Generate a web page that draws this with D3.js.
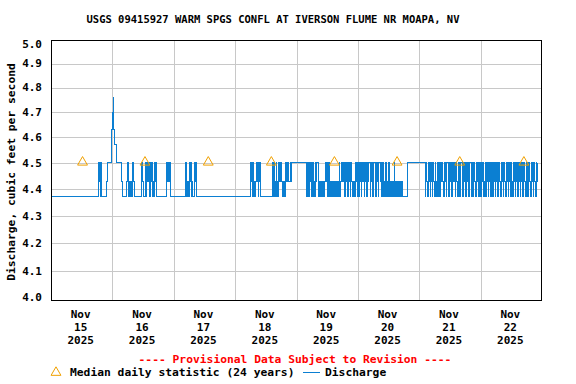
<!DOCTYPE html>
<html>
<head>
<meta charset="utf-8">
<script src="https://cdn.jsdelivr.net/npm/d3@7"></script>
<style>
    body { margin: 0; background: #fff; }
    svg { display: block; }
    text { font-family: "DejaVu Sans Mono", monospace; font-weight: bold; fill: #000; }
</style>
</head>
<body>
<svg id="chart" width="576" height="384"></svg>
<script>
// ========== Data ==========

const title = "USGS 09415927 WARM SPGS CONFL AT IVERSON FLUME NR MOAPA, NV";
const yLabel = "Discharge, cubic feet per second";
const yTicks = [4.0, 4.1, 4.2, 4.3, 4.4, 4.5, 4.6, 4.7, 4.8, 4.9, 5.0];
const dayLabels = ["15", "16", "17", "18", "19", "20", "21", "22"];

// discharge levels seen on the chart (cfs)
const levels = [4.37, 4.43, 4.50, 4.57, 4.63, 4.70, 4.76];

// 15-minute readings, one digit per reading (index into levels), one string per 6 hours
const nov15 = ["000000000000000000000000", "000000000000000000000000", "000000000000000000000000", "000210200000000122222244"];
const nov16 = ["564333222222222100000012", "201001012100000000000021", "000020121202120010212000", "000000000000021121200000"];
const nov17 = ["000000000000000000020110", "121201000212000000000000", "000000000000000000000000", "000000000000000000000000"];
const nov18 = ["000000000000000000000000", "212021101212012200000000", "000000000002021021102121", "210101021212112122222222"];
const nov19 = ["222222222222222202202212", "021010212210101010101221", "202101010101010101020122", "122022120212021010102120"];
const nov20 = ["202120221202120212202120", "122102120221201201021010", "210101010201010101010100", "000002222222222222222222"];
const nov21 = ["222222222022102120120121", "021022012012210212022102", "212022120221022012210221", "202120122021022102120120"];
const nov22 = ["201220120212012202102210", "212022102120221021201220", "210221021202210212022102", "120221021202210212"];

// median daily statistic (24 years)
const medianTimes = ["2025-11-15 12:20", "2025-11-16 12:45", "2025-11-17 13:30", "2025-11-18 14:10",
                     "2025-11-19 14:50", "2025-11-20 15:20", "2025-11-21 15:50", "2025-11-22 16:55"];
const medianValues = [4.5, 4.5, 4.5, 4.5, 4.5, 4.5, 4.5, 4.5];

// ========== Setup ==========

const svg = d3.select("#chart");
const margin = { left: 51, right: 542, top: 40, bottom: 300 };
const lineColor = "#0b7fd2";
const triColor = "#f0a000";

const start = new Date(2025, 10, 15, 0, 0);
const end = new Date(2025, 10, 23, 0, 0);

const x = d3.scaleTime().domain([start, end]).range([margin.left, margin.right]);
const y = d3.scaleLog().domain([4, 5]).range([margin.bottom, margin.top]);

const days = [nov15, nov16, nov17, nov18, nov19, nov20, nov21, nov22];
const readings = [];
days.forEach((blocks, d) => {
    blocks.forEach((s, b) => {
        s.split("").forEach((c, i) => {
            const minutes = ((d * 96) + (b * 24) + i) * 15;
            readings.push({ t: new Date(start.getTime() + minutes * 60000), v: levels[+c] });
        });
    });
});

const parseTime = d3.timeParse("%Y-%m-%d %H:%M");
const medians = medianTimes.map((t, i) => ({ t: parseTime(t), v: medianValues[i] }));

// ========== Grid ==========

const midnights = d3.timeDay.range(d3.timeDay.offset(start, 1), end);

svg.append("g")
    .selectAll("line")
    .data(yTicks.slice(1, -1))
    .join("line")
    .attr("x1", margin.left).attr("x2", margin.right)
    .attr("y1", d => Math.round(y(d)) + 0.5)
    .attr("y2", d => Math.round(y(d)) + 0.5)
    .attr("stroke", "#c8c8c8")
    .attr("shape-rendering", "crispEdges");

svg.append("g")
    .selectAll("line")
    .data(midnights)
    .join("line")
    .attr("x1", d => Math.round(x(d)) + 0.5)
    .attr("x2", d => Math.round(x(d)) + 0.5)
    .attr("y1", margin.top).attr("y2", margin.bottom)
    .attr("stroke", "#c8c8c8")
    .attr("shape-rendering", "crispEdges");

// ========== Discharge ==========

const line = d3.line()
    .x(d => x(d.t))
    .y(d => y(d.v))
    .curve(d3.curveStepAfter);

svg.append("path")
    .datum(readings)
    .attr("fill", "none")
    .attr("stroke", lineColor)
    .attr("stroke-width", 1)
    .attr("shape-rendering", "crispEdges")
    .attr("d", line);

// ========== Medians ==========

const tri = d3.symbol(d3.symbolTriangle, 42);

svg.append("g")
    .selectAll("path")
    .data(medians)
    .join("path")
    .attr("d", tri)
    .attr("transform", d => `translate(${x(d.t)},${y(d.v) - 0.5})`)
    .attr("fill", "none")
    .attr("stroke", triColor)
    .attr("stroke-width", 1);

// ========== Frame and axes ==========

svg.append("rect")
    .attr("x", margin.left + 0.5).attr("y", margin.top + 0.5)
    .attr("width", margin.right - margin.left - 1).attr("height", margin.bottom - margin.top)
    .attr("fill", "none")
    .attr("stroke", "#000")
    .attr("shape-rendering", "crispEdges");

svg.append("g")
    .selectAll("text")
    .data(yTicks)
    .join("text")
    .attr("x", 42)
    .attr("y", d => y(d) + (d === 5.0 ? 4 : d === 4.0 ? -3 : 0))
    .attr("dy", "0.35em")
    .attr("text-anchor", "end")
    .style("font-size", "11px")
    .text(d => d.toFixed(1));

const xLabels = svg.append("g")
    .selectAll("text")
    .data(dayLabels)
    .join("text")
    .attr("text-anchor", "middle")
    .style("font-size", "11px");

xLabels.each(function(d) {
    const noon = new Date(2025, 10, +d, 12);
    const cx = x(noon) - 1;
    const t = d3.select(this);
    t.append("tspan").attr("x", cx).attr("y", 318).text("Nov");
    t.append("tspan").attr("x", cx).attr("y", 331).text(d);
    t.append("tspan").attr("x", cx).attr("y", 344).text("2025");
});

svg.append("text")
    .attr("x", 273)
    .attr("y", 23)
    .attr("text-anchor", "middle")
    .style("font-size", "10.5px")
    .text(title);

svg.append("text")
    .attr("transform", "translate(15,172) rotate(-90)")
    .attr("text-anchor", "middle")
    .style("font-size", "11.3px")
    .text(yLabel);

svg.append("text")
    .attr("x", 295)
    .attr("y", 363)
    .attr("text-anchor", "middle")
    .style("font-size", "11.3px")
    .style("fill", "#ff0000")
    .text("---- Provisional Data Subject to Revision ----");

// ========== Legend ==========

svg.append("path")
    .attr("d", tri)
    .attr("transform", "translate(56,372.5)")
    .attr("fill", "none")
    .attr("stroke", triColor);

svg.append("text")
    .attr("x", 70).attr("y", 376)
    .style("font-size", "11.3px")
    .text("Median daily statistic (24 years)");

svg.append("line")
    .attr("x1", 303).attr("x2", 320)
    .attr("y1", 372.5).attr("y2", 372.5)
    .attr("stroke", lineColor)
    .attr("shape-rendering", "crispEdges");

svg.append("text")
    .attr("x", 325).attr("y", 376)
    .style("font-size", "11.3px")
    .text("Discharge");
</script>
</body>
</html>
